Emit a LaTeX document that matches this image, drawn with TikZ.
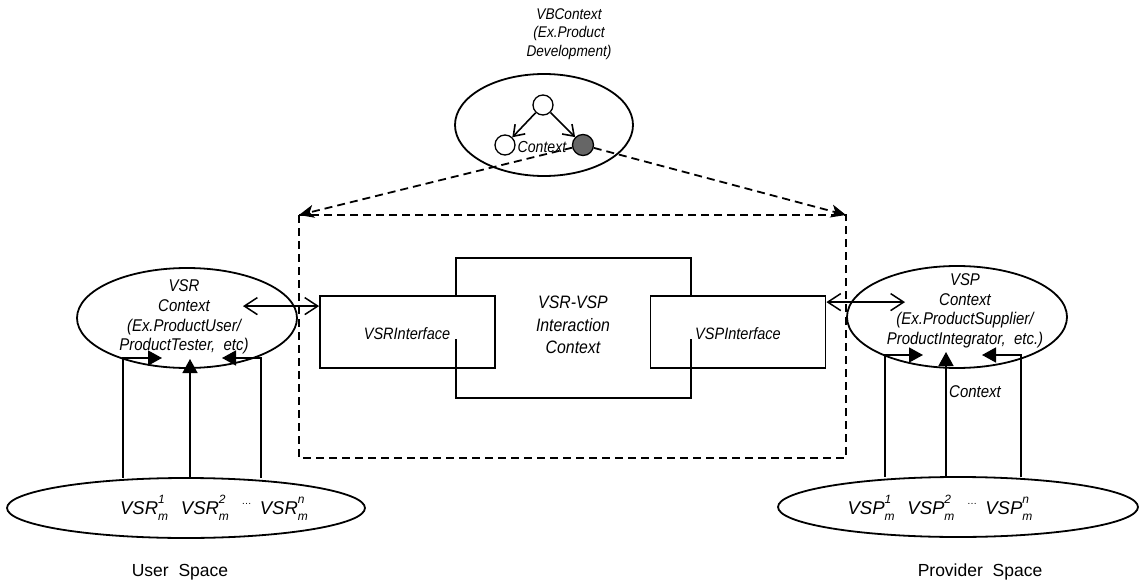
\documentclass[tikz,border=0pt]{standalone}
\usepackage{fontspec}
\setmainfont{Liberation Sans}
\newfontfamily\labfont[FakeStretch=0.88]{Liberation Sans}
\usetikzlibrary{arrows.meta,shapes.geometric,calc}

% stacked sub- and superscript after a name
\newcommand\subsup[2]{\rlap{\raisebox{.6em}{\fontsize{12}{12}\selectfont #2}}\raisebox{-.3em}{\fontsize{12}{12}\selectfont #1}\hspace{.25em}}
\newcommand\midots{\raisebox{.55em}{\fontsize{10}{10}\selectfont\textup{…}}}

\begin{document}
\begin{tikzpicture}[x=1pt,y=-1pt,
  lab/.style={font=\labfont\itshape\fontsize{#1}{#1}\selectfont, align=center, inner sep=0pt},
  lab/.default=17,
  ell/.style={draw, ellipse, line width=1.8pt, inner sep=0pt, fill=white},
  boxline/.style={line width=1.8pt},
  ifbox/.style={draw, line width=1.8pt, minimum width=175pt, minimum height=72pt, inner sep=0pt},
  dashbox/.style={line width=1.8pt, dash pattern=on 8pt off 5pt},
  dashtip/.style={line width=1.8pt, dash pattern=on 8pt off 5pt, -{Stealth[length=15pt,width=13pt,inset=4pt]}},
  barbs/.style={line width=1.5pt, {Straight Barb[length=13pt,width=17pt,line width=1.5pt]}-{Straight Barb[length=13pt,width=17pt,line width=1.5pt]}},
  smallbarb/.style={line width=1.6pt, -{Straight Barb[length=10pt,width=14pt,line width=1.6pt]}},
  filarrow/.style={line width=1.5pt, -{Triangle[length=14pt,width=15pt]}},
  circ/.style={draw, circle, line width=1.3pt, minimum size=20pt, inner sep=0pt}
]
\useasboundingbox (0,0) rectangle (1146,583);

% ---------- value-based context on top ----------
\node[align=center, inner sep=0pt, font=\labfont\itshape\fontsize{15.5}{18.5}\selectfont] (vbtext) at (569,34)
  {VBContext\\(Ex.Product\\Development)};
\node[ell, minimum width=178pt, minimum height=102pt] (vb) at (544,125) {};
\node[circ] (ctop) at (543,105) {};
\node[circ] (cleft) at (505,145) {};
\node[circ, fill=black!60, minimum size=21pt] (cdark) at (583,145) {};
\node[lab=16] (ctxtop) at (542,147) {Context};
\draw[smallbarb] (ctop) -- (cleft);
\draw[smallbarb] (ctop) -- (cdark);

% ---------- interaction area (dashed) ----------
\coordinate (tl) at (299,215);
\coordinate (tr) at (846,215);
\coordinate (bl) at (299,458);
\coordinate (br) at (846,458);
\draw[dashbox] (tl) -- (bl) -- (br) -- (tr) -- (tl);
\draw[dashtip] (cdark) -- (tl);
\draw[dashtip] (cdark) -- (tr);

% central interaction context (partly hidden behind the interface labels)
\draw[boxline] (456,297) -- (456,258) -- (691,258) -- (691,297);
\draw[boxline] (456,339) -- (456,398) -- (691,398) -- (691,339);
\node[align=center, inner sep=0pt, font=\labfont\itshape\fontsize{18}{22.5}\selectfont] (vsrvsp) at (573,325)
  {VSR-VSP\\Interaction\\Context};

\node[ifbox] (vsri) at (407.5,332) {};
\node[ifbox] (vspi) at (738,332) {};
\node[lab=16.5] (vsrilab) at (407,334) {VSRInterface};
\node[lab=16.5] (vspilab) at (738,334) {VSPInterface};

% ---------- requester side ----------
\node[ell, minimum width=220pt, minimum height=100pt] (vsr) at (187,318) {};
\node[align=center, inner sep=0pt, font=\labfont\itshape\fontsize{17}{19.7}\selectfont] (vsrtext) at (184,317)
  {VSR\\Context\\(Ex.ProductUser/\\ProductTester,\ \ etc)};
\coordinate (vsrin) at ($(vsri.north west)+(0,11)$);
\coordinate (vsrout) at (vsrin -| 243,0);
\draw[barbs] (vsrout) -- (vsrin);

\coordinate (ul) at (123,358);
\coordinate (ultip) at (162,358);
\coordinate (um) at (190,359);
\coordinate (ur) at (261,358);
\coordinate (urtip) at (222,358);
\node[ellipse, inner sep=0pt, minimum width=358pt, minimum height=60pt] (usp) at (186,508) {};
\draw[filarrow] (ul |- usp.north) -- (ul) -- (ultip);
\draw[filarrow] (um |- usp.north) -- (um);
\draw[filarrow] (ur |- usp.north) -- (ur) -- (urtip);
\node[ell, minimum width=358pt, minimum height=60pt] (uspline) at (usp) {};
\node[font=\itshape\fontsize{18.5}{18.5}\selectfont, inner sep=0pt] (vsrm) at (214,508)
  {VSR\subsup{m}{1}\hspace{3pt} VSR\subsup{m}{2}\hspace{3pt} \midots\hspace{3pt} VSR\subsup{m}{n}};
\node[font=\fontsize{17.5}{17.5}\selectfont, inner sep=0pt] (user) at (180,572) {User\ \ Space};

% ---------- provider side ----------
\node[ell, minimum width=220pt, minimum height=102pt] (vsp) at (957,317) {};
\node[align=center, inner sep=0pt, font=\labfont\itshape\fontsize{17}{19.5}\selectfont] (vsptext) at (965,311)
  {VSP\\Context\\(Ex.ProductSupplier/\\ProductIntegrator,\ \ etc.)};
\coordinate (vspin) at ($(vspi.north east)+(0,7)$);
\coordinate (vspout) at (vspin -| 905,0);
\draw[barbs] (vspin) -- (vspout);

\coordinate (pl) at (885,355);
\coordinate (pltip) at (923,355);
\coordinate (pm) at (946,352);
\coordinate (pr) at (1021,355);
\coordinate (prtip) at (982,355);
\node[ellipse, inner sep=0pt, minimum width=360pt, minimum height=60pt] (psp) at (958,507) {};
\draw[filarrow] (pl |- psp.north) -- (pl) -- (pltip);
\draw[filarrow] (pm |- psp.north) -- (pm);
\draw[filarrow] (pr |- psp.north) -- (pr) -- (prtip);
\node[ell, minimum width=360pt, minimum height=60pt] (pspline) at (psp) {};
\node[lab, anchor=west] (ctxright) at (949,392) {Context};
\node[font=\itshape\fontsize{18.5}{18.5}\selectfont, inner sep=0pt] (vspm) at (940,508)
  {VSP\subsup{m}{1}\hspace{3pt} VSP\subsup{m}{2}\hspace{3pt} \midots\hspace{3pt} VSP\subsup{m}{n}};
\node[font=\fontsize{17.5}{17.5}\selectfont, inner sep=0pt] (prov) at (980,572) {Provider\ \ Space};
\end{tikzpicture}
\end{document}
